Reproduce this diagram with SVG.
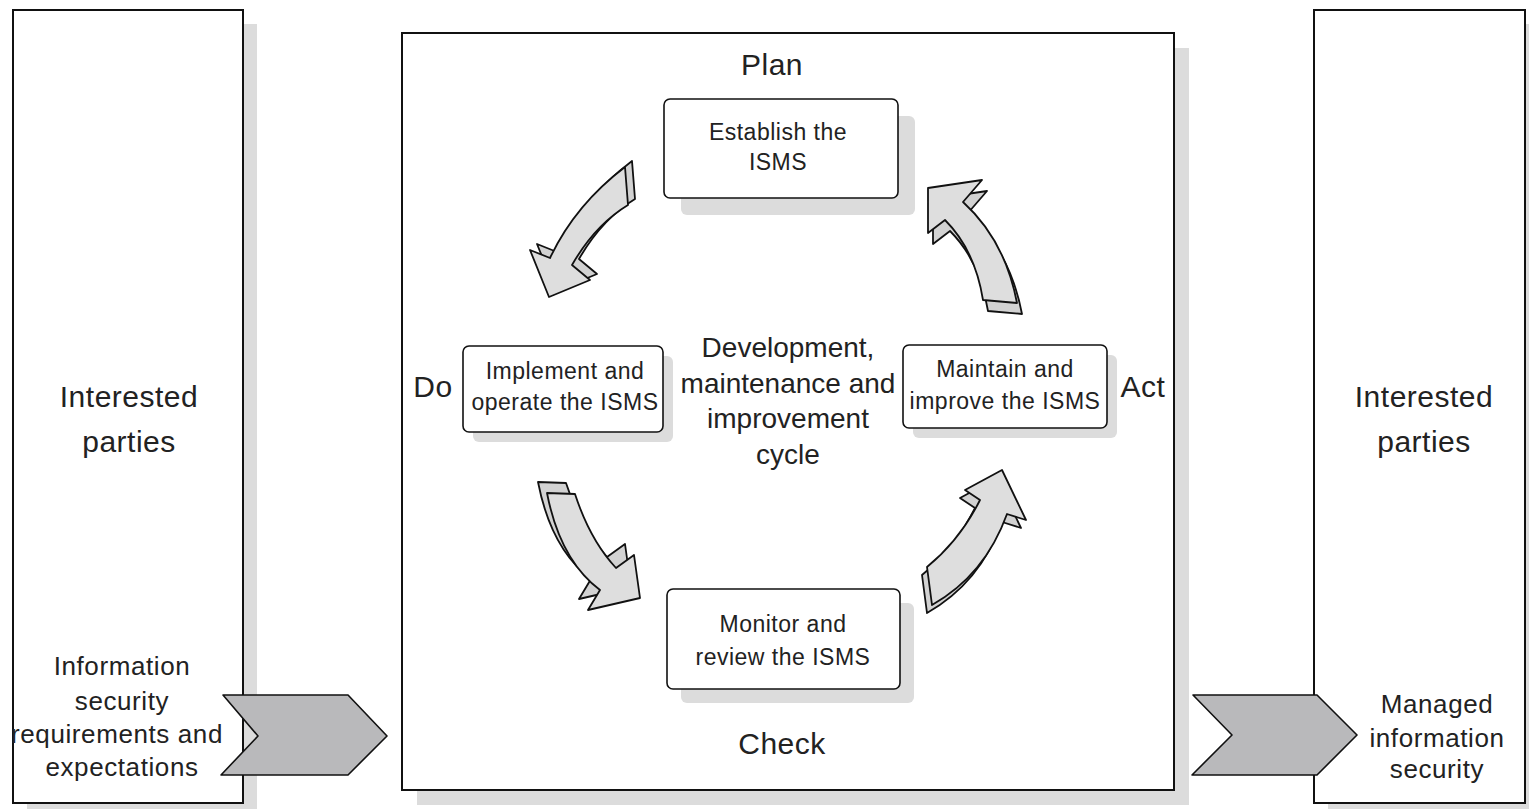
<svg xmlns="http://www.w3.org/2000/svg" width="1529" height="809" viewBox="0 0 1529 809">
  <style>
    text { font-family: "Liberation Sans", Arial, sans-serif; fill: #222; text-anchor: middle; }
    .big { font-size: 30px; letter-spacing: 0.5px; }
    .mid { font-size: 28px; }
    .node { font-size: 23px; letter-spacing: 0.5px; }
    .small { font-size: 26px; letter-spacing: 0.6px; }
    .frame { fill: #fff; stroke: #111; stroke-width: 2; }
    .shadow { fill: #dcdcdc; }
    .box { fill: #fff; stroke: #111; stroke-width: 1.6; }
    .chev { fill: #b9b9bb; stroke: #111; stroke-width: 1.6; stroke-linejoin: round; }
    .front { fill: #dedede; stroke: #111; stroke-width: 1.8; stroke-linejoin: round; }
    .back { fill: #d2d2d2; stroke: #111; stroke-width: 1.8; stroke-linejoin: round; }
  </style>

  <rect width="1529" height="809" fill="#fff"/>

  <!-- Left: interested parties (input side) -->
  <g id="parties-in">
    <rect class="shadow" x="27" y="24" width="230" height="793"/>
    <rect class="frame" x="13" y="10" width="230" height="793"/>
    <text class="big" x="129" y="407">Interested</text>
    <text class="big" x="129" y="452">parties</text>
    <text class="small" x="122" y="675">Information</text>
    <text class="small" x="122" y="710">security</text>
    <text class="small" x="117" y="743">requirements and</text>
    <text class="small" x="122" y="776">expectations</text>
  </g>

  <!-- Right: interested parties (output side) -->
  <g id="parties-out">
    <rect class="shadow" x="1328" y="24" width="220" height="793"/>
    <rect class="frame" x="1314" y="10" width="211" height="793"/>
    <text class="big" x="1424" y="407">Interested</text>
    <text class="big" x="1424" y="452">parties</text>
    <text class="small" x="1437" y="713">Managed</text>
    <text class="small" x="1437" y="747">information</text>
    <text class="small" x="1437" y="778">security</text>
  </g>

  <!-- Central frame holding the PDCA cycle -->
  <g id="cycle-frame">
    <rect class="shadow" x="417" y="48" width="772" height="757"/>
    <rect class="frame" x="402" y="33" width="772" height="757"/>
    <text class="big" x="772" y="75">Plan</text>
    <text class="big" x="433" y="397">Do</text>
    <text class="big" x="1143" y="397">Act</text>
    <text class="big" x="782" y="754">Check</text>
    <text class="mid" x="788" y="357">Development,</text>
    <text class="mid" x="788" y="393">maintenance and</text>
    <text class="mid" x="788" y="428">improvement</text>
    <text class="mid" x="788" y="464">cycle</text>
  </g>

  <!-- Input / output chevrons -->
  <g id="input-arrow">
    <polygon class="chev" points="223,695 348,695 387,736 348,775 221,775 258,736"/>
  </g>
  <g id="output-arrow">
    <polygon class="chev" points="1193,695 1317,695 1357,735 1317,775 1192,775 1232,735"/>
  </g>

  <!-- Phase boxes -->
  <g id="plan">
    <rect class="shadow" x="681" y="116" width="234" height="99" rx="6"/>
    <rect class="box" x="664" y="99" width="234" height="99" rx="6"/>
    <text class="node" x="778" y="140">Establish the</text>
    <text class="node" x="778" y="170">ISMS</text>
  </g>
  <g id="do">
    <rect class="shadow" x="473" y="356" width="200" height="86" rx="6"/>
    <rect class="box" x="463" y="346" width="200" height="86" rx="6"/>
    <text class="node" x="565" y="379">Implement and</text>
    <text class="node" x="565" y="410">operate the ISMS</text>
  </g>
  <g id="act">
    <rect class="shadow" x="913" y="355" width="204" height="83" rx="6"/>
    <rect class="box" x="903" y="345" width="204" height="83" rx="6"/>
    <text class="node" x="1005" y="377">Maintain and</text>
    <text class="node" x="1005" y="409">improve the ISMS</text>
  </g>
  <g id="check">
    <rect class="shadow" x="681" y="603" width="233" height="100" rx="6"/>
    <rect class="box" x="667" y="589" width="233" height="100" rx="6"/>
    <text class="node" x="783" y="632">Monitor and</text>
    <text class="node" x="783" y="665">review the ISMS</text>
  </g>

  <!-- Curved 3D cycle arrows: extruded back face, then front face -->
  <g id="connectors">
    <!-- Plan to Do -->
    <path class="back" transform="translate(7,-6)" d="M625,167 Q575,205 550,258 L530,250 L549,297 L590,280 L572,265 Q595,225 628,205 Z"/>
    <path class="front" d="M625,167 Q575,205 550,258 L530,250 L549,297 L590,280 L572,265 Q595,225 628,205 Z"/>

    <!-- Do to Check -->
    <path class="back" transform="translate(-9,-11)" d="M547,493 Q560,560 600,590 L588,610 L640,598 L634,555 L616,568 Q590,540 575,494 Z"/>
    <path class="front" d="M547,493 Q560,560 600,590 L588,610 L640,598 L634,555 L616,568 Q590,540 575,494 Z"/>

    <!-- Check to Act -->
    <path class="back" transform="translate(-5,8)" d="M927,567 Q960,540 980,500 L965,490 L1002,470 L1026,520 L1007,514 Q985,575 932,605 Z"/>
    <path class="front" d="M927,567 Q960,540 980,500 L965,490 L1002,470 L1026,520 L1007,514 Q985,575 932,605 Z"/>

    <!-- Act to Plan -->
    <path class="back" transform="translate(5,11)" d="M928,188 L982,180 L963,202 Q1005,240 1017,303 L983,300 Q975,250 945,220 L928,233 Z"/>
    <path class="front" d="M928,188 L982,180 L963,202 Q1005,240 1017,303 L983,300 Q975,250 945,220 L928,233 Z"/>
  </g>
</svg>
